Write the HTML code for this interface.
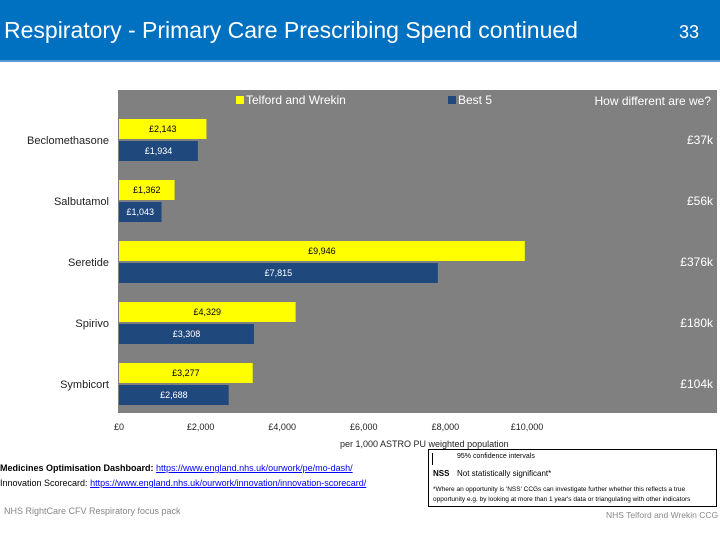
<!DOCTYPE html>
<html><head><meta charset="utf-8">
<style>
body{margin:0;width:720px;height:540px;background:#fff;position:relative;overflow:hidden;font-family:"Liberation Sans",sans-serif}
.hdr{position:absolute;left:0;top:0;width:720px;height:60px;background:#0070c0;border-bottom:2px solid #5b9bd5}
.t{position:absolute;color:#fff;font-size:23px;top:17px}
.s{position:absolute;font-size:9px;white-space:nowrap}
a{color:#00f}
</style></head><body>
<div class="hdr">
<div class="t" style="left:4px">Respiratory - Primary Care Prescribing Spend continued</div>
<div class="t" style="left:679px;font-size:18px;top:22px">33</div>
</div>
<svg id="chart" width="720" height="540" style="position:absolute;left:0;top:0"></svg>
<div class="s" style="left:0;top:463px;font-weight:bold">Medicines Optimisation Dashboard: <a href="#" style="font-weight:normal">https://www.england.nhs.uk/ourwork/pe/mo-dash/</a></div>
<div class="s" style="left:0;top:478px">Innovation Scorecard: <a href="#">https://www.england.nhs.uk/ourwork/innovation/innovation-scorecard/</a></div>
<div class="s" style="left:4px;top:506px;color:#888">NHS RightCare CFV Respiratory focus pack</div>
<div class="s" style="left:606px;top:510px;color:#888;font-size:8.5px">NHS Telford and Wrekin CCG</div>
<div style="position:absolute;left:428px;top:449px;width:287px;height:56px;border:1px solid #000;font-size:7px">
<div style="position:absolute;left:3px;top:3px;width:1px;height:12px;background:#000"></div>
<div style="position:absolute;left:28px;top:3px">95% confidence intervals</div>
<div style="position:absolute;left:4px;top:19px;font-weight:bold;font-size:8px">NSS</div>
<div style="position:absolute;left:28px;top:19px;font-size:8px">Not statistically significant*</div>
<div style="position:absolute;left:4px;top:35px;line-height:10px;font-size:6.5px">*Where an opportunity is 'NSS' CCGs can investigate further whether this reflects a true<br>opportunity e.g. by looking at more than 1 year's data or triangulating with other indicators</div>
</div>
<script>
const categories=["Beclomethasone","Salbutamol","Seretide","Spirivo","Symbicort"];
const telford=[2143,1362,9946,4329,3277];
const best5=[1934,1043,7815,3308,2688];
const diffs=["£37k","£56k","£376k","£180k","£104k"];
const ticks=[0,2000,4000,6000,8000,10000];
const svg=document.getElementById('chart');
const NS='http://www.w3.org/2000/svg';
const x0=119,pxPer=0.0408;
const X=v=>x0+v*pxPer;
const rowY=i=>119+i*61;
function mk(tag,attrs,txt){const e=document.createElementNS(NS,tag);for(const k in attrs)e.setAttribute(k,attrs[k]);if(txt!=null)e.textContent=txt;svg.appendChild(e);return e;}
const fmt=v=>'£'+v.toLocaleString('en-GB');
let e=mk('rect',{x:118,y:90,width:599,height:323,fill:'#808080'});


e=mk('rect',{x:236,y:96,width:8,height:8,fill:'#ffff00'});


e=mk('text',{x:246,y:104,fill:'#fff','font-size':12},'Telford and Wrekin');


e=mk('rect',{x:448,y:96,width:8,height:8,fill:'#1f497d'});


e=mk('text',{x:458,y:104,fill:'#fff','font-size':12},'Best 5');


e=mk('text',{x:711,y:105,fill:'#fff','font-size':12,'text-anchor':'end'},'How different are we?');


categories.forEach((c,i)=>{
  const y=rowY(i);
  let r=mk('rect',{x:x0,y:y,width:X(telford[i])-x0,height:20,fill:'#ffff00'});
  
  
  let t=mk('text',{x:(x0+X(telford[i]))/2,y:y+13,'font-size':9,'text-anchor':'middle',fill:'#000'},fmt(telford[i]));
  
  
  r=mk('rect',{x:x0,y:y+22,width:X(best5[i])-x0,height:20,fill:'#1f497d'});
  
  
  t=mk('text',{x:(x0+X(best5[i]))/2,y:y+35,'font-size':9,'text-anchor':'middle',fill:'#fff'},fmt(best5[i]));
  
  
  t=mk('text',{x:109,y:y+25,'font-size':11,'text-anchor':'end',fill:'#222'},c);
  
  
  t=mk('text',{x:713,y:y+25,'font-size':12,'text-anchor':'end',fill:'#fff'},diffs[i]);
  
  
});
ticks.forEach(v=>{
  const t=mk('text',{x:X(v),y:430,'font-size':9,'text-anchor':'middle',fill:'#222'},fmt(v));
  
  
});
e=mk('text',{x:340,y:447,'font-size':9,fill:'#222'},'per 1,000 ASTRO PU weighted population');


</script>
</body></html>
